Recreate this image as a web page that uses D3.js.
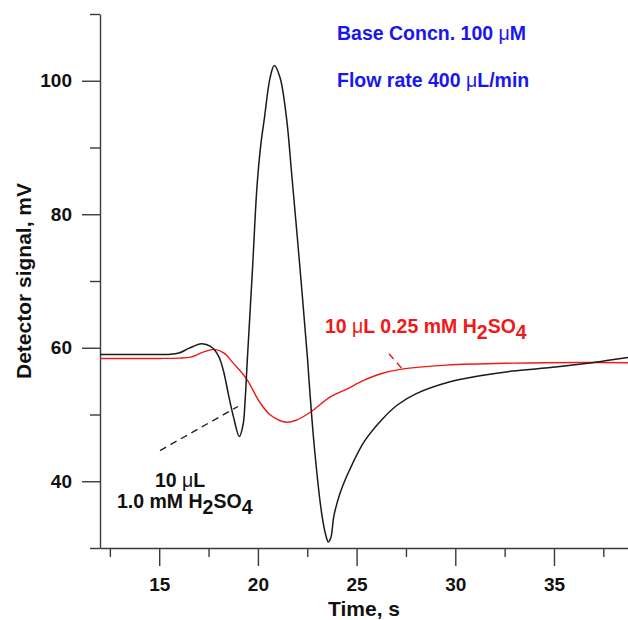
<!DOCTYPE html>
<html>
<head>
<meta charset="utf-8">
<script src="https://cdn.jsdelivr.net/npm/d3@7"></script>
<style>
  html, body { margin: 0; padding: 0; background: #fff; }
  svg { display: block; font-family: "Liberation Sans", Arial, sans-serif; }
  .mu { font-weight: normal; }
</style>
</head>
<body>
<svg id="chart" width="628" height="620"></svg>
<script>
// ---- Data ----
const blackTime   = [12, 14, 15.5, 16.0, 16.5, 17.15, 17.6, 18.0, 18.25, 18.5, 18.75, 19.06, 19.25, 19.35, 19.46, 19.73, 19.95, 20.15, 20.33, 20.62, 20.83, 21.12, 21.45, 21.7, 22.1, 22.52, 22.59, 22.86, 23.23, 23.45, 23.57, 23.7, 23.85, 24.16, 24.66, 25.4, 26.3, 27.1, 28.0, 29.6, 31.25, 32.9, 34.7, 36.5, 37.5, 38.75];
const blackSignal = [59.0, 59.0, 59.0, 59.2, 59.9, 60.6, 60.2, 58.8, 56.6, 53.1, 49.8, 46.7, 48.5, 52.0, 58.0, 72.0, 84.0, 90.5, 94.4, 100.5, 102.3, 100.5, 94.4, 86.4, 73.0, 58.1, 55.1, 45.1, 35.2, 31.8, 30.9, 31.6, 34.8, 38.2, 41.8, 46.0, 49.3, 51.5, 53.1, 54.8, 55.8, 56.5, 57.0, 57.6, 58.0, 58.55];

const redTime   = [12, 15, 16, 16.6, 17.2, 17.8, 18.3, 18.75, 19.43, 20.1, 20.6, 21.1, 21.46, 21.9, 22.64, 23.65, 24.5, 25.33, 26.18, 27.28, 29.56, 32.94, 36.3, 38.75];
const redSignal = [58.4, 58.4, 58.45, 58.6, 59.3, 59.75, 59.15, 57.7, 55.3, 51.8, 50.0, 49.1, 48.85, 49.1, 50.3, 52.6, 53.8, 55.07, 56.07, 56.8, 57.4, 57.7, 57.8, 57.75];

const xMajorTicks = [15, 20, 25, 30, 35];
const xMinorTicks = [12.5, 17.5, 22.5, 27.5, 32.5, 37.5];
const yMajorTicks = [40, 60, 80, 100];
const yMinorTicks = [30, 50, 70, 90, 110];

const xTitle = "Time, s";
const yTitle = "Detector signal, mV";

// ---- Layout ----
const svg = d3.select("#chart");
const x = d3.scaleLinear().domain([12, 38.75]).range([100, 628]);
const y = d3.scaleLinear().domain([30, 110]).range([548, 14]);
const axisColor = "#3a3a3a";
const tickFont = "19px";

// X axis
const gx = svg.append("g").attr("transform", `translate(0,${y(30)})`);
gx.call(d3.axisBottom(x).tickValues(xMajorTicks).tickSize(18).tickSizeOuter(0).tickPadding(12).tickFormat(d3.format("d")));
const gxm = svg.append("g").attr("transform", `translate(0,${y(30)})`);
gxm.call(d3.axisBottom(x).tickValues(xMinorTicks).tickSize(9).tickSizeOuter(0).tickFormat(""));
gxm.select(".domain").remove();

// Y axis
const gy = svg.append("g").attr("transform", `translate(${x(12)},0)`);
gy.call(d3.axisLeft(y).tickValues(yMajorTicks).tickSize(18).tickSizeOuter(0).tickPadding(10).tickFormat(d3.format("d")));
const gym = svg.append("g").attr("transform", `translate(${x(12)},0)`);
gym.call(d3.axisLeft(y).tickValues(yMinorTicks).tickSize(10).tickSizeOuter(0).tickFormat(""));
gym.select(".domain").remove();

svg.selectAll(".domain, .tick line").attr("stroke", axisColor).attr("stroke-width", 1.4);
svg.selectAll(".tick text").attr("font-size", tickFont).attr("font-weight", "bold")
   .attr("fill", "#111").attr("font-family", "'Liberation Sans', Arial, sans-serif");

// Axis titles
svg.append("text").attr("x", (x.range()[0] + x.range()[1]) / 2).attr("y", 616)
  .attr("text-anchor", "middle").attr("font-size", "21px").attr("font-weight", "bold").attr("fill", "#111")
  .text(xTitle);
svg.append("text").attr("transform", `translate(31,${(y.range()[0] + y.range()[1]) / 2}) rotate(-90)`)
  .attr("text-anchor", "middle").attr("font-size", "21px").attr("font-weight", "bold").attr("fill", "#111")
  .text(yTitle);

// Curves
const line = d3.line().x(d => x(d[0])).y(d => y(d[1])).curve(d3.curveCatmullRom.alpha(0.5));
const redData = redTime.map((t, i) => [t, redSignal[i]]);
const blackData = blackTime.map((t, i) => [t, blackSignal[i]]);

svg.append("path").datum(redData).attr("d", line)
  .attr("fill", "none").attr("stroke", "#f01818").attr("stroke-width", 1.4);
svg.append("path").datum(blackData).attr("d", line)
  .attr("fill", "none").attr("stroke", "#1a1a1a").attr("stroke-width", 1.5);

// Leader lines (data coords)
const blackLeader = [[15.04, 44.6], [18.99, 51.2]];
const redLeader = [[26.64, 59.1], [27.35, 56.7]];
svg.append("line")
  .attr("x1", x(blackLeader[0][0])).attr("y1", y(blackLeader[0][1]))
  .attr("x2", x(blackLeader[1][0])).attr("y2", y(blackLeader[1][1]))
  .attr("stroke", "#222").attr("stroke-width", 1.4).attr("stroke-dasharray", "7,5");
svg.append("line")
  .attr("x1", x(redLeader[0][0])).attr("y1", y(redLeader[0][1]))
  .attr("x2", x(redLeader[1][0])).attr("y2", y(redLeader[1][1]))
  .attr("stroke", "#f01818").attr("stroke-width", 1.4).attr("stroke-dasharray", "7,5");

// Annotations
function label(px, py, color, parts) {
  const t = svg.append("text").attr("x", px).attr("y", py)
    .attr("font-size", "19.5px").attr("font-weight", "bold").attr("fill", color);
  parts.forEach(p => {
    const s = t.append("tspan").text(p.t);
    if (p.mu) s.attr("class", "mu");
    if (p.dy) s.attr("dy", p.dy);
  });
  return t;
}
const blue = "#1818ee";
label(337, 40, blue, [{t: "Base Concn. 100 "}, {t: "\u03bc", mu: true}, {t: "M"}]);
label(337, 86.5, blue, [{t: "Flow rate 400 "}, {t: "\u03bc", mu: true}, {t: "L/min"}]);

label(325, 333, "#f01818", [{t: "10 "}, {t: "\u03bc", mu: true}, {t: "L 0.25 mM H"}, {t: "2", dy: 6}, {t: "SO", dy: -6}, {t: "4", dy: 6}]);

label(155, 486.7, "#111", [{t: "10 "}, {t: "\u03bc", mu: true}, {t: "L"}]);
label(117, 508, "#111", [{t: "1.0 mM H"}, {t: "2", dy: 6}, {t: "SO", dy: -6}, {t: "4", dy: 6}]);
</script>
</body>
</html>
